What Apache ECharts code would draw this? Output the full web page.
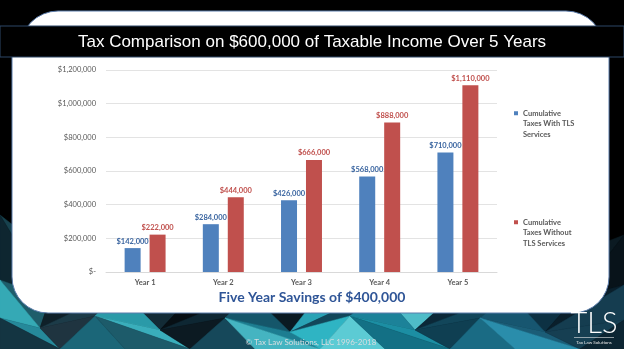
<!DOCTYPE html>
<html>
<head>
<meta charset="utf-8">
<script src="https://cdn.jsdelivr.net/npm/echarts@6/dist/echarts.min.js"></script>
<style>
  html, body { margin: 0; padding: 0; background: #000; }
  #chart { width: 624px; height: 349px; }
</style>
</head>
<body>
<div id="chart"></div>
<script>
// Chart data
const years = ['Year 1', 'Year 2', 'Year 3', 'Year 4', 'Year 5'];
const withTLS = [142000, 284000, 426000, 568000, 710000];
const withoutTLS = [222000, 444000, 666000, 888000, 1110000];
const seriesNames = ['Cumulative Taxes With TLS Services', 'Cumulative Taxes Without TLS Services'];
const legendLines = {
  'Cumulative Taxes With TLS Services': ['Cumulative', 'Taxes With TLS', 'Services'],
  'Cumulative Taxes Without TLS Services': ['Cumulative', 'Taxes Without', 'TLS Services']
};
const yTicks = { min: 0, max: 1200000, step: 200000 };

const titleText = 'Tax Comparison on $600,000 of Taxable Income Over 5 Years';
const subtitleText = 'Five Year Savings of $400,000';
const footerText = '\u00A9 Tax Law Solutions, LLC 1996-2018';

const money = v => v === 0 ? '$-' : '$' + v.toLocaleString('en-US');

// Low-poly backdrop along the bottom of the slide
const meshRows = [
  [[0,215],[45,250],[105,262],[170,256],[240,262],[310,256],[380,262],[450,256],[520,262],[585,250],[624,235]],
  [[0,280],[50,298],[120,290],[185,303],[250,293],[315,300],[380,290],[445,303],[510,294],[575,298],[624,285]],
  [[0,318],[40,328],[95,316],[160,330],[225,318],[290,332],[350,316],[415,330],[480,318],[545,332],[624,320]],
  [[0,349],[60,349],[125,349],[190,349],[255,349],[320,349],[385,349],[450,349],[515,349],[580,349],[624,349]]
];
const meshColors = [
  ['#17414d','#0e2630','#070d11','#0a1419','#060b0f','#081015','#060b0f','#070d12','#060b0f','#081014',
   '#060b0f','#070d11','#060b0f','#081015','#070c10','#060b0f','#0a151c','#081117','#0b1a22','#08131a'],
  ['#1e5d6b','#35a9b5','#0f2029','#1c3b48','#132b36','#2a9aa8','#070f14','#0e2733','#0a1a22','#15566a',
   '#2aa3b5','#12475a','#4fbcc8','#1c8299','#0b2838','#12465a','#0d3143','#175670','#0a1f2b','#153d50'],
  ['#26899a','#143542','#1f3440','#1b6678','#3aaebb','#1d5b6a','#0c1a22','#16485a','#1d7d91','#45b4c1',
   '#2fb4c3','#5ccbd4','#1c8ea3','#137085','#0f3f52','#1a6b84','#1b5d77','#2a8dab','#163f52','#0c2532']
];

function buildMesh() {
  const out = [];
  for (let r = 0; r < meshRows.length - 1; r++) {
    const top = meshRows[r], bot = meshRows[r + 1];
    for (let j = 0; j < top.length - 1; j++) {
      const a = top[j], b = top[j + 1], c = bot[j + 1], d = bot[j];
      const tris = (j % 2 === 0) ? [[a, b, c], [a, c, d]] : [[a, b, d], [b, c, d]];
      tris.forEach((pts, k) => {
        out.push({
          type: 'polygon', z: -30, silent: true,
          shape: { points: pts },
          style: { fill: meshColors[r][j * 2 + k], stroke: meshColors[r][j * 2 + k], lineWidth: 0.5 }
        });
      });
    }
  }
  return out;
}

const chart = echarts.init(document.getElementById('chart'), null, { renderer: 'canvas' });

// Two blank lines ahead of the label keep the marker level with its first line
const legendBase = {
  orient: 'vertical',
  left: 514,
  itemWidth: 4,
  itemHeight: 4,
  icon: 'rect',
  padding: 0,
  selectedMode: false,
  formatter: name => '\n\n' + legendLines[name].join('\n'),
  textStyle: {
    fontFamily: 'Lato', fontSize: 7.5, fontWeight: 'bold', color: '#595959',
    lineHeight: 10.5
  }
};

const option = {
  backgroundColor: '#000',
  animation: false,
  grid: { left: 106, right: 127, top: 70, bottom: 77, containLabel: false },
  legend: [
    Object.assign({}, legendBase, { top: 87, data: [seriesNames[0]] }),
    Object.assign({}, legendBase, { top: 196, data: [seriesNames[1]] })
  ],
  xAxis: {
    type: 'category',
    data: years,
    axisLine: { show: true, lineStyle: { color: '#D9D9D9', width: 1 } },
    axisTick: { show: false },
    axisLabel: { fontFamily: 'Lato', fontSize: 7.5, fontWeight: 'bold', color: '#595959', margin: 7 }
  },
  yAxis: {
    type: 'value',
    min: yTicks.min, max: yTicks.max, interval: yTicks.step,
    axisLine: { show: false },
    axisTick: { show: false },
    splitLine: { lineStyle: { color: '#E3E3E3', width: 1 } },
    axisLabel: { formatter: money, fontFamily: 'Lato', fontSize: 7.5, color: '#595959', margin: 10 }
  },
  series: [
    {
      name: seriesNames[0], type: 'bar', data: withTLS,
      barWidth: 16, barGap: '56%',
      itemStyle: { color: '#4F81BD' },
      label: { show: true, position: 'top', distance: 3, formatter: p => money(p.value),
        fontFamily: 'Lato', fontSize: 7.5, fontWeight: 'bold', color: '#3A65A0' }
    },
    {
      name: seriesNames[1], type: 'bar', data: withoutTLS,
      barWidth: 16, barGap: '56%',
      itemStyle: { color: '#C0504D' },
      label: { show: true, position: 'top', distance: 3, formatter: p => money(p.value),
        fontFamily: 'Lato', fontSize: 7.5, fontWeight: 'bold', color: '#C0504D' }
    }
  ],
  graphic: [
    ...buildMesh(),
    // white panel: top cap above the title band and the main body
    { type: 'rect', z: -20, silent: true,
      shape: { x: 20, y: 11, width: 584, height: 40, r: [38, 38, 0, 0] },
      style: { fill: '#fff', stroke: '#5b7cab', lineWidth: 1 } },
    { type: 'rect', z: -20, silent: true,
      shape: { x: 12, y: 50, width: 597, height: 263, r: [0, 0, 36, 36] },
      style: { fill: '#fff', stroke: '#5b7cab', lineWidth: 1 } },
    // title band
    { type: 'rect', z: -10, silent: true,
      shape: { x: 0, y: 26, width: 624, height: 31 },
      style: { fill: '#000', stroke: '#2c4766', lineWidth: 1 } },
    { type: 'text', z: -5, silent: true, x: 312, y: 42,
      style: { text: titleText, fill: '#fff', font: '17px "Liberation Sans", Arial, sans-serif',
        align: 'center', verticalAlign: 'middle' } },
    { type: 'text', silent: true, x: 312, y: 297,
      style: { text: subtitleText, fill: '#2F5597', font: 'bold 14px Lato, sans-serif',
        align: 'center', verticalAlign: 'middle' } },
    { type: 'text', silent: true, x: 311, y: 342,
      style: { text: footerText, fill: '#d8dde0', font: '8px Lato, sans-serif',
        align: 'center', verticalAlign: 'middle' } },
    // TLS mark
    { type: 'text', silent: true, x: 594, y: 324,
      style: { text: 'TLS', fill: '#fff', font: '300 29px Lato, sans-serif',
        align: 'center', verticalAlign: 'middle' } },
    { type: 'line', silent: true,
      shape: { x1: 574, y1: 337.5, x2: 614, y2: 337.5 },
      style: { stroke: '#e8e8e8', lineWidth: 0.6 } },
    { type: 'text', silent: true, x: 594, y: 342.5,
      style: { text: 'Tax Law Solutions', fill: '#e8e8e8', font: '4.5px Lato, sans-serif',
        align: 'center', verticalAlign: 'middle' } }
  ]
};

chart.setOption(option);
</script>
</body>
</html>
